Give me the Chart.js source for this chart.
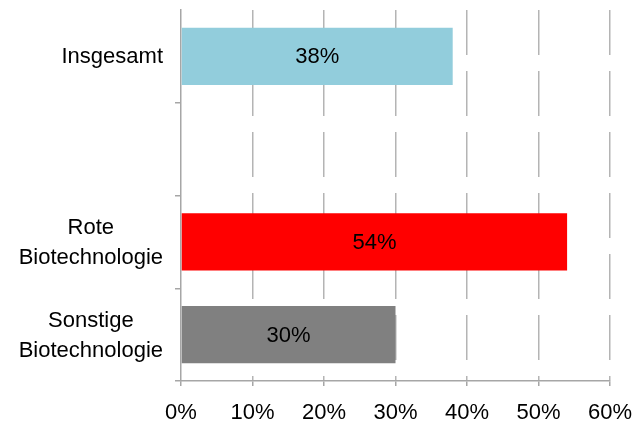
<!DOCTYPE html>
<html>
<head>
<meta charset="utf-8">
<script src="https://cdn.jsdelivr.net/npm/chart.js@4"></script>
<style>
  html, body { margin: 0; padding: 0; background: #fff; }
  #wrap { width: 633px; height: 426px; }
</style>
</head>
<body>
<div id="wrap"><canvas id="biotechChart" width="633" height="426"></canvas></div>
<script>
const categories = [["Insgesamt"], [""], ["Rote", "Biotechnologie"], ["Sonstige", "Biotechnologie"]];
const shares = [38, null, 54, 30];
const barColors = ["#92CDDC", "#FFFFFF", "#FF0000", "#808080"];
const xTicks = [0, 10, 20, 30, 40, 50, 60];

const FONT = "'Liberation Sans', Arial, sans-serif";

// labels in the middle of each bar
const barValueLabels = {
  id: "barValueLabels",
  afterDatasetsDraw(chart) {
    const ctx = chart.ctx;
    const meta = chart.getDatasetMeta(0);
    ctx.save();
    ctx.font = "22px " + FONT;
    ctx.fillStyle = "#000";
    ctx.textAlign = "center";
    ctx.textBaseline = "middle";
    meta.data.forEach((bar, i) => {
      if (shares[i] == null) return;
      const mid = (bar.x + bar.base) / 2;
      ctx.fillText(shares[i] + "%", mid, bar.y + 1);
    });
    ctx.restore();
  }
};

// category labels: block right aligned, lines centred inside the block
const categoryLabels = {
  id: "categoryLabels",
  afterDraw(chart) {
    const ctx = chart.ctx;
    const yScale = chart.scales.y;
    const right = chart.chartArea.left - 18;
    const lineH = 30;
    ctx.save();
    ctx.font = "22px " + FONT;
    ctx.fillStyle = "#000";
    ctx.textAlign = "center";
    ctx.textBaseline = "middle";
    categories.forEach((lines, i) => {
      const w = Math.max(...lines.map(l => ctx.measureText(l).width));
      const cx = right - w / 2;
      const cy = yScale.getPixelForTick(i);
      lines.forEach((l, j) => {
        ctx.fillText(l, cx, cy + (j - (lines.length - 1) / 2) * lineH + 1);
      });
    });
    ctx.restore();
  }
};

new Chart(document.getElementById("biotechChart").getContext("2d"), {
  type: "bar",
  data: {
    labels: categories,
    datasets: [{
      data: shares,
      backgroundColor: barColors,
      borderWidth: 0,
      categoryPercentage: 1,
      barPercentage: 0.615
    }]
  },
  options: {
    indexAxis: "y",
    responsive: false,
    animation: false,
    layout: { padding: { top: 10, left: 0, right: 0, bottom: 0 } },
    plugins: {
      legend: { display: false },
      tooltip: { enabled: false }
    },
    scales: {
      x: {
        min: 0,
        max: 60,
        afterBuildTicks: (scale) => { scale.ticks = xTicks.map(v => ({ value: v })); },
        afterFit: (scale) => { scale.height = 45; scale.paddingRight = 23; },
        border: { display: true, color: "#a6a6a6", width: 1.5, dash: [45, 16] },
        grid: {
          color: (c) => c.index === 0 ? "rgba(0,0,0,0)" : "#b4b4b4",
          lineWidth: 1.5,
          tickBorderDash: [],
          tickColor: "#a6a6a6",
          tickLength: 5,
          drawTicks: true
        },
        ticks: {
          color: "#000",
          font: { family: FONT, size: 22 },
          padding: 14,
          maxRotation: 0,
          callback: (v) => v + "%"
        }
      },
      y: {
        offset: true,
        afterFit: (scale) => { scale.width = 181; },
        border: { display: true, color: "#a6a6a6", width: 1.5 },
        grid: {
          offset: true,
          drawOnChartArea: false,
          drawTicks: true,
          tickLength: 6,
          color: (c) => c.index === 0 ? "rgba(0,0,0,0)" : "#a6a6a6",
          lineWidth: 1.5
        },
        ticks: { display: false }
      }
    }
  },
  plugins: [barValueLabels, categoryLabels]
});
</script>
</body>
</html>
